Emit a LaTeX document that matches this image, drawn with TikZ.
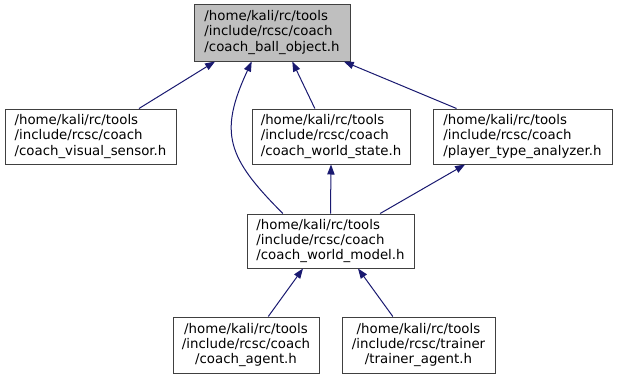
\documentclass[tikz,border=0pt]{standalone}
\usepackage{fontspec}
\setmainfont{DejaVu Sans}
\usetikzlibrary{arrows.meta}
\definecolor{edgeblue}{HTML}{191970}
\definecolor{boxline}{HTML}{404040}
\definecolor{rootfill}{HTML}{BFBFBF}
\begin{document}
\begin{tikzpicture}[x=0.75pt, y=-0.75pt,
    font=\fontsize{10}{11.3}\selectfont,
    hfile/.style={draw=boxline, line width=0.75pt, fill=white, inner sep=0pt,
      minimum height=41.25pt, align=left},
    incl/.style={draw=edgeblue, line width=0.75pt,
      -{Triangle[length=7.5pt, width=5.5pt]}}]
    \useasboundingbox (0,0) rectangle (617,379);

    \node[hfile, fill=rootfill, minimum width=117pt, minimum height=42.75pt] (ballobj) at (272,32.5)
      {/home/kali/rc/tools\\/include/rcsc/coach\\/coach\_ball\_object.h};

    \node[hfile, minimum width=128.25pt] (vsensor) at (90.5,136.5)
      {/home/kali/rc/tools\\/include/rcsc/coach\\/coach\_visual\_sensor.h};
    \node[hfile, minimum width=118.5pt] (wstate) at (331,136.5)
      {/home/kali/rc/tools\\/include/rcsc/coach\\/coach\_world\_state.h};
    \node[hfile, minimum width=134.25pt] (ptype) at (522.5,136.5)
      {/home/kali/rc/tools\\/include/rcsc/coach\\/player\_type\_analyzer.h};

    \node[hfile, minimum width=125.25pt, minimum height=40.5pt] (wmodel) at (330.5,241)
      {/home/kali/rc/tools\\/include/rcsc/coach\\/coach\_world\_model.h};

    \node[hfile, align=center, minimum width=109.5pt, minimum height=42pt] (cagent) at (246,345)
      {/home/kali/rc/tools\\/include/rcsc/coach\\/coach\_agent.h};
    \node[hfile, align=center, minimum width=114.75pt, minimum height=42pt] (tagent) at (418.5,345)
      {/home/kali/rc/tools\\/include/rcsc/trainer\\/trainer\_agent.h};

    \draw[incl] (vsensor.30) -- (ballobj.-153);
    \draw[incl] (wmodel.150) to[out=135, in=-115, looseness=1.3] (ballobj.-125);
    \draw[incl] (wstate.120) -- (ballobj.-55);
    \draw[incl] (ptype.157) -- (ballobj.-22);

    \draw[incl] (wmodel.north) -- (wstate.south);
    \draw[incl] (wmodel.29) -- (ptype.-154);

    \draw[incl] (cagent.52) -- (wmodel.-135);
    \draw[incl] (tagent.132) -- (wmodel.-45);
  \end{tikzpicture}
\end{document}
